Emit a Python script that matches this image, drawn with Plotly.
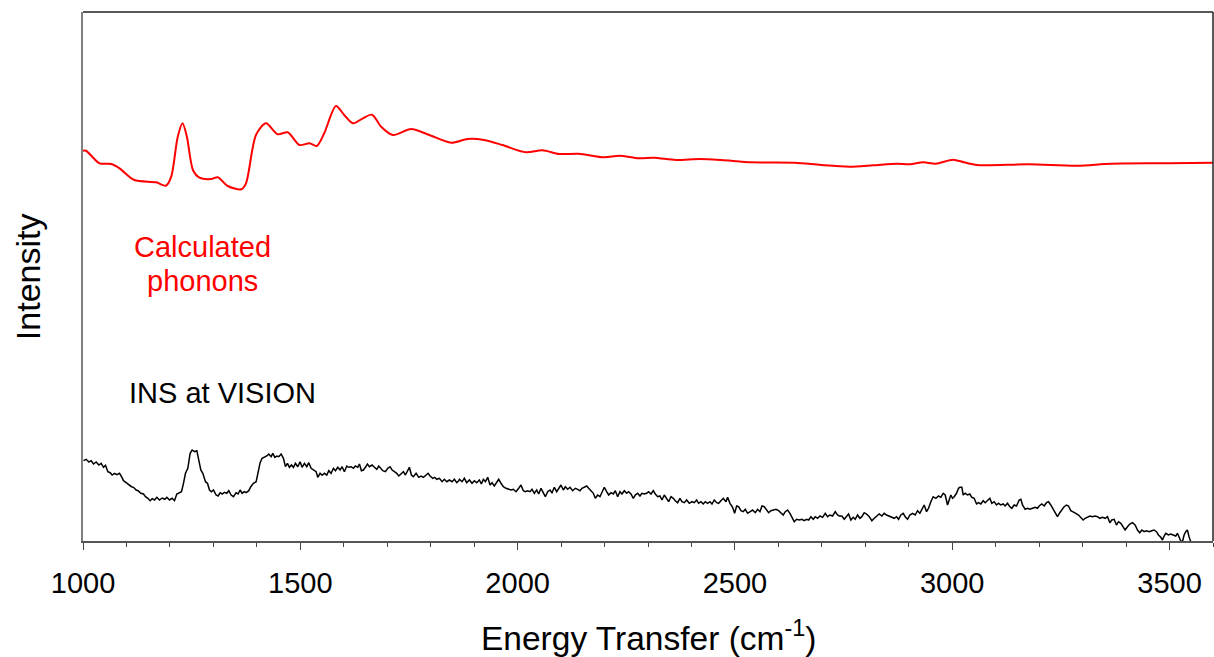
import plotly.graph_objects as go

# Calculated phonons (arbitrary intensity units)
calc_energy = [1000, 1007, 1038, 1065, 1084, 1118, 1168, 1191, 1203, 1218, 1229, 1239, 1253, 1268,
               1295, 1310, 1333, 1364, 1375, 1398, 1421, 1448, 1471, 1498, 1521, 1538, 1555, 1582,
               1601, 1621, 1644, 1665, 1686, 1713, 1755, 1797, 1847, 1885, 1923, 1965, 2019, 2057,
               2096, 2140, 2199, 2234, 2279, 2314, 2364, 2419, 2469, 2539, 2638, 2698, 2763, 2818,
               2873, 2903, 2933, 2962, 3002, 3027, 3057, 3177, 3287, 3366, 3496, 3600]
calc_intensity = [390.3, 390.3, 377.7, 377.0, 372.7, 361.0, 358.7, 355.3, 364.3, 404.3, 417.7, 404.3,
                  371.0, 363.3, 362.0, 363.7, 355.0, 351.7, 357.7, 406.0, 417.7, 406.7, 408.7, 396.0,
                  397.7, 395.0, 407.7, 435.0, 426.0, 417.7, 422.7, 426.3, 414.3, 406.0, 412.0, 406.0,
                  398.3, 402.0, 401.0, 396.0, 388.7, 390.7, 387.0, 387.3, 383.7, 385.3, 382.7, 383.3,
                  381.0, 382.0, 381.0, 378.7, 378.3, 376.0, 374.3, 375.7, 377.3, 376.7, 378.7, 377.3,
                  381.3, 378.7, 376.0, 376.7, 375.3, 377.3, 377.7, 378.3]

# INS at VISION (arbitrary intensity units)
ins_energy = [1001.2, 1007.3, 1013.5, 1018.8, 1024.2, 1030.3, 1036.5, 1041.8, 1047.2, 1051.8, 1057.2,
              1062.5, 1067.1, 1072.5, 1077.9, 1084.0, 1088.6, 1093.2, 1099.3, 1105.5, 1111.6, 1116.2,
              1122.3, 1126.9, 1133.1, 1139.2, 1143.8, 1149.2, 1154.5, 1159.1, 1164.5, 1169.9, 1176.0,
              1182.1, 1188.3, 1192.9, 1199.0, 1205.1, 1210.5, 1215.9, 1222.0, 1226.6, 1231.2, 1235.8,
              1241.2, 1246.5, 1251.1, 1256.5, 1261.9, 1266.5, 1271.1, 1275.7, 1281.8, 1286.4, 1291.0,
              1295.6, 1300.2, 1306.3, 1311.0, 1315.6, 1320.1, 1325.5, 1330.9, 1335.5, 1340.8, 1346.2,
              1352.3, 1356.9, 1361.5, 1366.1, 1370.7, 1375.3, 1381.5, 1386.1, 1392.2, 1398.4, 1402.2,
              1407.5, 1412.1, 1417.5, 1422.9, 1427.5, 1432.8, 1436.7, 1441.3, 1445.9, 1450.5, 1455.8,
              1461.2, 1465.8, 1470.4, 1475.0, 1479.6, 1484.2, 1488.8, 1494.2, 1499.5, 1504.1, 1509.5,
              1514.9, 1519.5, 1524.8, 1530.2, 1536.4, 1540.2, 1545.5, 1550.1, 1555.5, 1560.9, 1565.5,
              1570.8, 1576.2, 1580.8, 1586.2, 1591.5, 1596.2, 1601.5, 1606.9, 1611.5, 1616.9, 1622.2,
              1626.8, 1632.2, 1636.0, 1640.6, 1645.2, 1649.8, 1654.4, 1659.0, 1665.2, 1670.5, 1675.9,
              1680.5, 1685.1, 1689.7, 1695.8, 1701.2, 1706.6, 1711.2, 1716.5, 1721.9, 1726.5, 1731.9,
              1737.2, 1741.8, 1747.2, 1751.0, 1755.6, 1760.2, 1766.4, 1772.5, 1777.9, 1783.2, 1789.4,
              1794.0, 1798.6, 1804.7, 1809.3, 1813.9, 1820.0, 1826.2, 1831.5, 1836.9, 1843.0, 1849.2,
              1854.5, 1859.9, 1864.5,
              1866.0, 1872.1, 1877.5, 1882.9, 1889.0, 1895.1, 1900.5, 1905.9, 1912.0, 1916.6, 1921.2,
              1925.8, 1931.2, 1936.5, 1941.1, 1946.5, 1951.9, 1956.5, 1961.8, 1967.2, 1973.3, 1979.5,
              1984.8, 1990.2, 1996.3, 2002.5, 2007.8, 2013.2, 2017.8, 2023.2, 2028.5, 2033.1, 2038.5,
              2043.9, 2048.5, 2053.8, 2059.2, 2063.8, 2069.2, 2074.5, 2079.1, 2084.5, 2089.9, 2094.5,
              2099.8, 2105.2, 2109.8, 2115.2, 2120.5, 2126.7, 2132.8, 2138.2, 2143.5, 2148.1, 2153.5,
              2158.9, 2163.5, 2168.8, 2174.2, 2178.8, 2184.2, 2189.5, 2194.1, 2199.5, 2204.9, 2209.5,
              2214.8, 2220.2, 2224.8, 2230.2, 2235.5, 2240.1, 2245.5, 2250.9, 2255.5, 2260.8, 2266.2,
              2270.8, 2276.2, 2281.5, 2286.1, 2291.5, 2296.9, 2301.5, 2306.8, 2312.2, 2316.8, 2322.2,
              2327.5, 2332.1, 2337.5, 2342.9, 2347.5, 2352.8, 2358.2, 2362.8, 2368.2, 2373.5, 2378.1,
              2383.5, 2388.9, 2395.0, 2401.2, 2406.5, 2411.9, 2416.5, 2421.8, 2427.2, 2431.8, 2437.2,
              2442.6, 2447.2, 2452.5, 2457.9, 2462.5, 2467.8, 2473.2, 2479.4, 2483.2, 2488.6, 2494.7,
              2499.3, 2503.9, 2508.5, 2513.9, 2519.2, 2523.8, 2529.2, 2534.6, 2540.7, 2546.8, 2552.2,
              2557.6, 2562.2, 2567.5, 2572.9, 2577.5, 2582.8, 2588.2, 2594.4, 2600.5, 2605.9, 2611.2,
              2615.8, 2621.2, 2626.6, 2631.2, 2636.5, 2641.9, 2648.0, 2654.2, 2659.5, 2664.9, 2669.5,
              2674.9, 2680.2, 2684.8, 2690.2, 2695.6, 2701.7, 2707.8, 2713.2, 2718.6, 2724.7, 2730.8,
              2736.2, 2740.0,
              2746.1, 2751.5, 2756.9, 2761.5, 2766.8, 2772.2, 2776.8, 2782.2, 2787.5, 2792.1, 2797.5,
              2802.9, 2809.0, 2815.1, 2820.5, 2825.9, 2832.0, 2838.1, 2843.5, 2848.9, 2855.0, 2861.1,
              2866.5, 2871.9, 2876.5, 2881.8, 2887.2, 2891.8, 2897.2, 2902.5, 2908.7, 2914.8, 2920.2,
              2925.5, 2930.1, 2935.5, 2940.9, 2945.5, 2950.8, 2956.2, 2962.3, 2968.5, 2973.8, 2979.2,
              2983.8, 2989.2, 2993.0, 2996.8, 3000.7, 3004.5, 3009.9, 3014.5, 3017.5, 3022.1, 3025.2,
              3029.8, 3035.2, 3040.5, 3045.1, 3050.5, 3055.9, 3060.5, 3065.8, 3071.2, 3075.8, 3081.2,
              3086.5, 3091.1, 3096.5, 3101.9, 3106.5, 3111.8, 3117.2, 3121.8, 3127.2, 3132.5, 3137.1,
              3142.5, 3147.9, 3154.0, 3157.9, 3161.7, 3167.8, 3173.2, 3178.6, 3184.7, 3190.8, 3196.2,
              3200.0, 3206.1, 3211.5, 3216.9, 3221.5, 3226.8, 3232.2, 3236.8, 3242.2, 3247.5, 3252.1,
              3257.5, 3262.9, 3267.5, 3272.8, 3278.2, 3284.4, 3290.5, 3295.9, 3301.2, 3305.8, 3311.2,
              3316.6, 3322.7, 3328.8, 3334.2, 3339.6, 3345.7, 3351.8, 3357.2, 3362.6, 3367.2, 3372.5,
              3377.9, 3382.5, 3387.9, 3393.2, 3397.8, 3403.2, 3408.6, 3414.7, 3420.8, 3426.2, 3431.6,
              3436.2, 3441.5, 3446.9, 3453.0, 3459.2, 3464.5, 3469.9, 3474.5, 3479.9, 3483.7, 3487.5,
              3491.3, 3497.5, 3502.8, 3508.2, 3514.3, 3518.2, 3522.0, 3525.8, 3529.7, 3533.5, 3537.3,
              3541.1, 3544.9, 3548.8]
ins_intensity = [80.3, 81.7, 79.0, 80.3, 77.0, 79.0, 76.0, 77.7, 73.7, 75.7, 69.3, 68.3, 66.0, 67.7,
                 66.3, 67.7, 64.3, 60.3, 58.3, 56.0, 54.3, 53.7, 51.0, 50.3, 47.7, 47.0, 44.3, 42.7,
                 40.3, 42.3, 41.0, 43.7, 41.0, 43.0, 41.7, 43.7, 41.0, 42.7, 40.3, 47.0, 48.3, 49.3,
                 57.7, 67.7, 72.7, 87.7, 91.0, 89.3, 90.3, 81.0, 71.0, 67.7, 59.3, 57.7, 51.0, 49.3,
                 51.0, 46.0, 45.0, 48.3, 47.0, 48.7, 47.7, 50.3, 46.0, 44.3, 48.3, 47.0, 51.0, 47.7,
                 49.3, 48.3, 50.3, 54.3, 57.7, 59.3, 67.7, 78.3, 82.7, 83.7, 85.0, 87.0, 84.3, 87.7,
                 83.7, 85.0, 84.3, 87.0, 82.7, 74.3, 77.7, 73.7, 76.0, 73.7, 77.7, 74.3, 79.3, 73.7,
                 77.7, 74.3, 78.3, 72.7, 71.0, 69.3, 63.7, 67.7, 65.7, 67.7, 66.0, 70.3, 67.7, 72.7,
                 70.3, 73.7, 71.0, 74.3, 69.3, 75.0, 73.7, 74.3, 72.7, 75.0, 73.7, 77.0, 70.3, 71.0,
                 73.7, 77.0, 74.3, 76.0, 73.7, 71.7, 75.0, 72.7, 70.3, 69.3, 72.7, 74.3, 71.0, 69.3,
                 67.7, 65.0, 67.7, 69.3, 66.0, 71.0, 73.7, 66.0, 64.3, 67.7, 63.7, 65.0, 63.7, 66.0,
                 67.7, 65.0, 62.7, 63.7, 61.7, 62.7, 59.3, 61.7, 59.3, 61.0, 59.3, 61.7, 58.3, 60.3,
                 61.7, 59.3, 62.7, 58.3, 61.0, 57.7, 60.3, 58.3, 61.0, 57.0, 61.7, 59.3, 63.7, 56.0,
                 58.3, 55.0, 59.3, 61.7, 57.7, 54.3, 52.7, 51.7, 51.0, 51.7, 49.3, 52.7, 56.0, 50.3,
                 49.3, 50.3, 49.3, 51.7, 47.7, 51.0, 47.0, 52.7, 47.7, 44.3, 49.3, 51.0, 48.3, 53.7,
                 49.3, 52.7, 56.0, 51.0, 54.3, 51.7, 53.7, 50.3, 52.7, 51.7, 50.3, 52.7, 54.3, 55.0,
                 52.7, 50.3, 47.7, 42.7, 46.0, 44.3, 49.3, 53.7, 49.3, 46.0, 48.3, 47.0, 50.3, 44.3,
                 49.3, 47.0, 50.3, 47.7, 49.3, 47.0, 42.7, 46.0, 47.7, 45.0, 47.7, 47.0, 47.7, 49.3,
                 47.0, 50.3, 47.0, 44.3, 45.0, 41.0, 46.0, 42.7, 39.3, 44.3, 42.7, 40.3, 38.3, 42.7,
                 39.3, 38.3, 41.0, 37.7, 39.3, 38.3, 41.0, 37.7, 39.3, 37.0, 39.3, 37.7, 39.3, 37.0,
                 41.0, 38.3, 37.7, 40.3, 42.7, 39.3, 43.7, 37.7, 33.7, 27.7, 35.0, 34.3, 30.3, 29.3,
                 31.7, 27.7, 29.3, 31.0, 28.3, 31.7, 29.3, 35.0, 34.3, 31.0, 28.3, 30.3, 31.0, 31.7,
                 30.3, 28.3, 26.0, 29.3, 31.0, 27.7, 24.3, 19.3, 21.7, 21.0, 21.7, 20.3, 21.7, 21.0,
                 24.3, 21.7, 24.3, 22.7, 25.0, 23.7, 27.7, 24.3, 26.0, 25.0, 29.3, 26.0, 25.0,
                 25.0, 21.7, 24.3, 27.0, 21.0, 23.7, 21.7, 26.0, 22.7, 24.3, 28.3, 27.0, 24.3, 20.3,
                 22.7, 25.0, 27.0, 25.0, 27.7, 26.0, 25.0, 24.3, 22.7, 24.3, 21.7, 26.0, 27.7, 24.3,
                 21.7, 26.0, 27.7, 26.0, 30.3, 27.7, 31.0, 36.0, 29.3, 32.7, 39.3, 44.3, 42.7, 45.0,
                 43.7, 47.7, 46.0, 36.0, 41.0, 46.0, 42.7, 44.3, 47.7, 52.7, 53.7, 53.7, 46.0, 47.7,
                 46.0, 47.0, 43.7, 42.7, 37.0, 38.3, 37.0, 40.3, 38.3, 41.0, 42.7, 37.7, 39.3, 36.0,
                 37.7, 36.0, 37.0, 35.0, 37.7, 34.3, 32.7, 36.0, 35.0, 41.0, 41.7, 36.0, 31.7, 32.7,
                 31.7, 32.7, 33.7, 32.7, 35.0, 37.0, 35.0, 38.3, 39.3, 36.0, 31.7, 27.7, 24.3, 28.3,
                 31.7, 34.3, 36.0, 35.0, 30.3, 29.3, 27.7, 26.0, 23.7, 21.0, 22.7, 23.7, 25.0, 24.3,
                 25.0, 24.3, 22.7, 23.7, 22.7, 24.3, 18.3, 21.0, 21.7, 16.0, 19.3, 17.7, 13.7, 11.0,
                 14.3, 17.0, 18.3, 16.0, 11.0, 8.3, 11.0, 9.3, 10.3, 9.3, 10.3, 11.0, 9.3, 6.0, 3.7,
                 1.0, 5.0, 7.7, 6.0, 7.0, 6.0, 5.0, 7.7, 2.7, 0.0, -0.7, 6.0, 9.3, 11.0, 4.3, -0.7]

x_range = [1000, 3600]
y_range = [0, 529]
x_tick_step = 500
x_minor_step = 100

FONT = "Liberation Sans, Arial, sans-serif"

fig = go.Figure()
fig.add_trace(go.Scatter(x=calc_energy, y=calc_intensity, mode="lines",
                         line=dict(color="#ff0000", width=2, shape="spline", smoothing=0.8),
                         showlegend=False, hoverinfo="skip"))
fig.add_trace(go.Scatter(x=ins_energy, y=ins_intensity, mode="lines",
                         line=dict(color="#000000", width=1.5),
                         showlegend=False, hoverinfo="skip"))

fig.update_layout(
    width=1214, height=657,
    margin=dict(l=83, r=1, t=12, b=116),
    paper_bgcolor="white", plot_bgcolor="white",
    font=dict(family=FONT, color="black"),
    xaxis=dict(range=x_range, dtick=x_tick_step, tick0=1000, ticks="outside", ticklen=7,
               tickwidth=1.2, tickcolor="#444", showline=True, linecolor="#555", linewidth=1.5,
               showgrid=False, zeroline=False, tickfont=dict(size=29, family=FONT),
               ticklabelstandoff=8,
               minor=dict(dtick=x_minor_step, ticks="outside", ticklen=4, tickcolor="#444", showgrid=False)),
    yaxis=dict(range=y_range, showticklabels=False, ticks="", showline=True, linecolor="#808080",
               linewidth=2, showgrid=False, zeroline=False),
    shapes=[
        dict(type="line", xref="paper", yref="paper", x0=0, x1=1, y0=1, y1=1,
             line=dict(color="#222", width=1.5)),
        dict(type="line", xref="paper", yref="paper", x0=1, x1=1, y0=0, y1=1,
             line=dict(color="#222", width=1.5)),
    ],
    annotations=[
        dict(text="Energy Transfer (cm<sup>-1</sup>)", xref="paper", yref="paper",
             x=0.5, y=-0.18, xanchor="center", yanchor="middle", showarrow=False,
             font=dict(size=33.5, family=FONT, color="black")),
        dict(text="Intensity", xref="paper", yref="paper", x=-0.049, y=0.50,
             xanchor="center", yanchor="middle", textangle=-90, showarrow=False,
             font=dict(size=34, family=FONT, color="black")),
        dict(text="Calculated", xref="paper", yref="paper", x=0.1058, y=0.555,
             xanchor="center", yanchor="middle", showarrow=False,
             font=dict(size=29, family=FONT, color="#ff0000")),
        dict(text="phonons", xref="paper", yref="paper", x=0.1058, y=0.492,
             xanchor="center", yanchor="middle", showarrow=False,
             font=dict(size=29, family=FONT, color="#ff0000")),
        dict(text="INS at VISION", xref="paper", yref="paper", x=0.1235, y=0.280,
             xanchor="center", yanchor="middle", showarrow=False,
             font=dict(size=29, family=FONT, color="black")),
    ],
)

fig.write_html("out.html", config={"displayModeBar": False},
               post_script="document.body.style.margin='0';document.body.style.overflow='hidden';")
